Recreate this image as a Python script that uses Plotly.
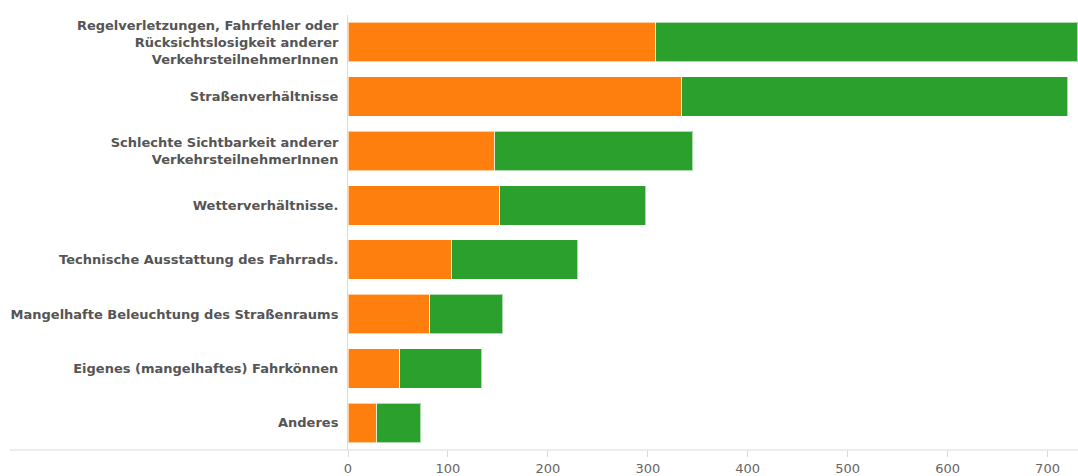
import plotly.graph_objects as go

# Reasons named for cycling accidents, stacked by two response groups
categories = [
    "Regelverletzungen, Fahrfehler oder<br>Rücksichtslosigkeit anderer<br>VerkehrsteilnehmerInnen",
    "Straßenverhältnisse",
    "Schlechte Sichtbarkeit anderer<br>VerkehrsteilnehmerInnen",
    "Wetterverhältnisse.",
    "Technische Ausstattung des Fahrrads.",
    "Mangelhafte Beleuchtung des Straßenraums",
    "Eigenes (mangelhaftes) Fahrkönnen",
    "Anderes",
]
orange_values = [308, 334, 147, 152, 104, 82, 52, 29]
green_values = [422, 386, 198, 146, 126, 73, 82, 44]
x_ticks = [0, 100, 200, 300, 400, 500, 600, 700]

label_color = "#555555"
axis_color = "#d9d9d9"

fig = go.Figure()
fig.add_trace(go.Bar(
    y=categories, x=orange_values, orientation="h",
    marker=dict(color="#ff7f0e", line=dict(color="rgba(255,255,255,0.6)", width=1)),
    showlegend=False, hoverinfo="x+y",
))
fig.add_trace(go.Bar(
    y=categories, x=green_values, orientation="h",
    marker=dict(color="#2ca02c", line=dict(color="rgba(255,255,255,0.6)", width=1)),
    showlegend=False, hoverinfo="x+y",
))

fig.update_layout(
    barmode="stack",
    bargap=0.274,
    width=1078, height=476,
    margin=dict(l=348, r=0, t=15, b=26),
    plot_bgcolor="white", paper_bgcolor="white",
    font=dict(family="DejaVu Sans, Arial, sans-serif", size=13, color=label_color),
)

fig.update_xaxes(
    range=[0, 730.5],
    tickvals=x_ticks,
    showgrid=False, zeroline=False,
    showline=False,
    ticks="outside", ticklen=6, tickcolor=axis_color, tickwidth=1,
    tickfont=dict(size=13, color="#666666"),
    automargin=False,
)
fig.update_yaxes(
    autorange="reversed",
    showgrid=False, zeroline=False,
    showline=True, linecolor=axis_color, linewidth=1,
    ticks="", ticklabelstandoff=6,
    tickfont=dict(size=13, color=label_color, weight="bold"),
    automargin=False,
)

# Baseline running under the labels and the bars
fig.add_shape(
    type="line", xref="paper", yref="paper",
    x0=(10 - 348) / 730, x1=1, y0=0, y1=0,
    line=dict(color=axis_color, width=1),
)

fig.write_html("out.html")
